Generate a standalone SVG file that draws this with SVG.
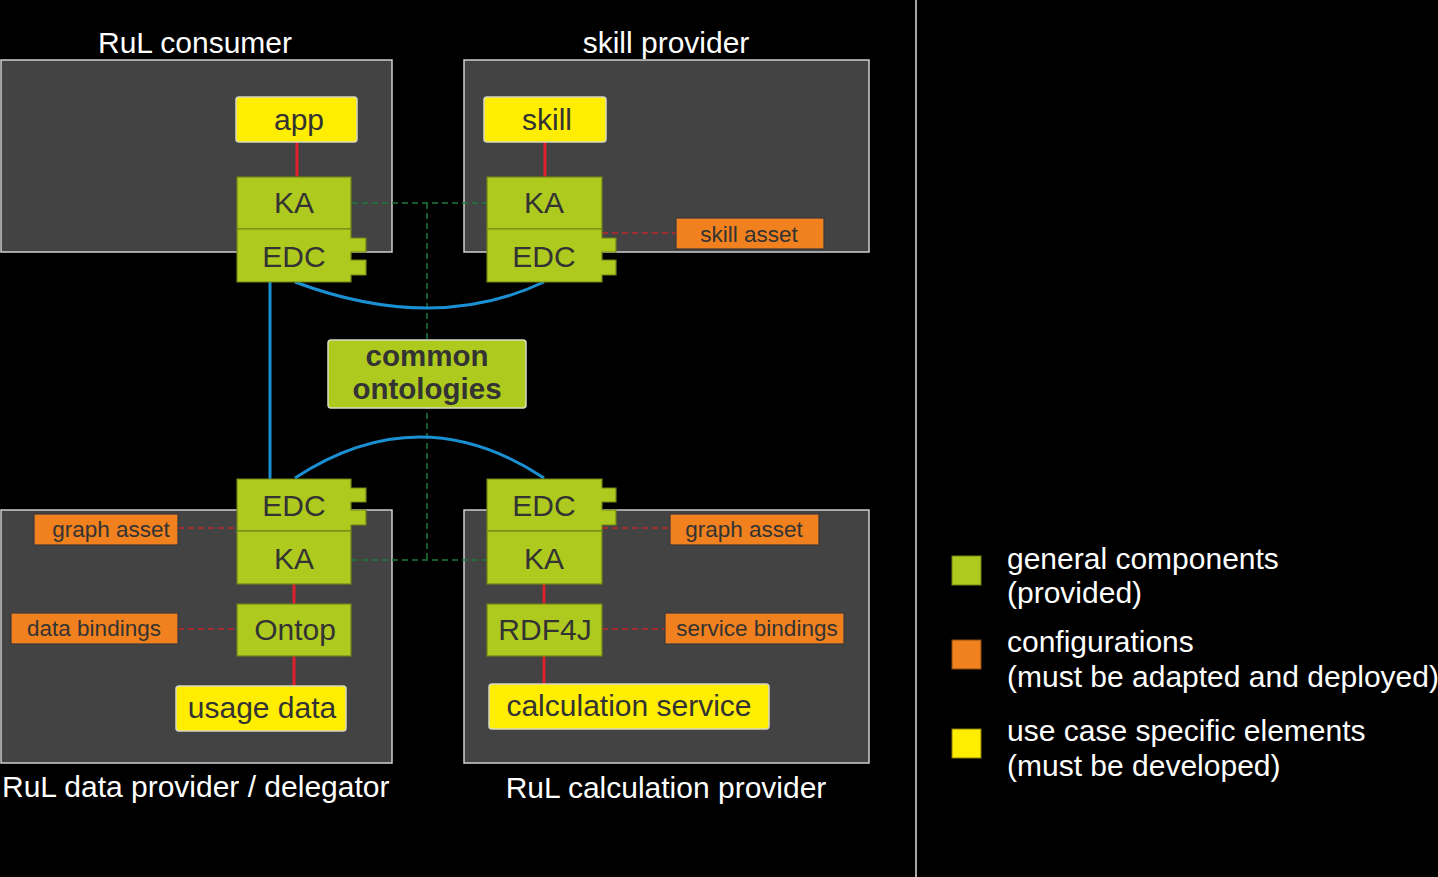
<svg xmlns="http://www.w3.org/2000/svg" width="1438" height="877" viewBox="0 0 1438 877">
<style>
text{font-family:"Liberation Sans",Arial,sans-serif;}
.cont{fill:#434343;stroke:#cfcfcf;stroke-width:1.5}
.title{fill:#ffffff;font-size:30px}
.gen{fill:#afca1f;stroke:#6e8419;stroke-width:1.2}
.use{fill:#ffee00;stroke:#d8d8c0;stroke-width:1.5}
.cfg{fill:#f0811e;stroke:#3a3a3a;stroke-width:1.2}
.t30{fill:#333333;font-size:30px;text-anchor:middle}
.t22{fill:#333333;font-size:22.5px;text-anchor:middle}
.bold{fill:#333333;font-size:29.5px;font-weight:bold;text-anchor:middle}
.red{stroke:#e0202a;stroke-width:3;fill:none}
.reddash{stroke:#c4262c;stroke-width:1.3;stroke-dasharray:6 4;fill:none}
.greendash{stroke:#1d7a3e;stroke-width:1.5;stroke-dasharray:6 4;fill:none}
.blue{stroke:#1a8fd2;stroke-width:3;fill:none}
.leg{fill:#ffffff;font-size:30px}
</style>

<rect x="0" y="0" width="1438" height="877" fill="#000000"/>
<line x1="916" y1="0" x2="916" y2="877" stroke="#dddddd" stroke-width="1.5"/>

<g id="containers">
<g id="rul-consumer">
<rect class="cont" x="1" y="60" width="391" height="192"/>
<text class="title" x="195" y="53" text-anchor="middle">RuL consumer</text>
</g>
<g id="skill-provider">
<rect class="cont" x="464" y="60" width="405" height="192"/>
<text class="title" x="666" y="53" text-anchor="middle">skill provider</text>
</g>
<g id="rul-data-provider">
<rect class="cont" x="1" y="510" width="391" height="253"/>
<text class="title" x="2" y="797">RuL data provider / delegator</text>
</g>
<g id="rul-calculation-provider">
<rect class="cont" x="464" y="510" width="405" height="253"/>
<text class="title" x="666" y="798" text-anchor="middle">RuL calculation provider</text>
</g>
</g>

<g id="connectors">
<line class="red" x1="297" y1="142" x2="297" y2="282"/>
<line class="red" x1="545" y1="142" x2="545" y2="282"/>
<line class="red" x1="294" y1="479" x2="294" y2="686"/>
<line class="red" x1="544" y1="479" x2="544" y2="684"/>
<line class="reddash" x1="602" y1="233" x2="676" y2="233"/>
<line class="reddash" x1="178" y1="528" x2="237" y2="528"/>
<line class="reddash" x1="178" y1="629" x2="237" y2="629"/>
<line class="reddash" x1="602" y1="528" x2="670" y2="528"/>
<line class="reddash" x1="602" y1="629" x2="665" y2="629"/>
<path class="greendash" d="M352,203 H487 M427,203 V560 M352,560 H487"/>
<path class="blue" d="M295,282 Q434,334 544,282"/>
<path class="blue" d="M295,478 Q420,396 544,478"/>
<line class="blue" x1="270" y1="282" x2="270" y2="479"/>
</g>

<g id="app">
<rect class="use" x="236" y="97" width="121" height="45" rx="3"/>
<text class="t30" x="299" y="130">app</text>
</g>
<g id="skill">
<rect class="use" x="484" y="97" width="122" height="45" rx="3"/>
<text class="t30" x="547" y="130">skill</text>
</g>

<g id="ka-consumer">
<rect class="gen" x="237" y="177" width="114" height="52"/>
<text class="t30" x="294" y="213">KA</text>
</g>
<g id="edc-consumer">
<path class="gen" d="M237,229 H351 V238 H366 V252 H351 V260 H366 V275 H351 V282 H237 Z"/>
<text class="t30" x="294" y="267">EDC</text>
</g>

<g id="ka-skill">
<rect class="gen" x="487" y="177" width="115" height="52"/>
<text class="t30" x="544" y="213">KA</text>
</g>
<g id="edc-skill">
<path class="gen" d="M487,229 H602 V238 H616 V252 H602 V260 H616 V275 H602 V282 H487 Z"/>
<text class="t30" x="544" y="267">EDC</text>
</g>
<g id="skill-asset">
<rect class="cfg" x="676" y="218" width="148" height="31"/>
<text class="t22" x="749" y="242">skill asset</text>
</g>

<g id="common-ontologies">
<rect x="328" y="340" width="198" height="68" rx="3" fill="#afca1f" stroke="#d8dcc0" stroke-width="1.5"/>
<text class="bold" x="427" y="366">common</text>
<text class="bold" x="427" y="399">ontologies</text>
</g>

<g id="edc-data">
<path class="gen" d="M237,479 H351 V488 H366 V502 H351 V510 H366 V525 H351 V531 H237 Z"/>
<text class="t30" x="294" y="516">EDC</text>
</g>
<g id="ka-data">
<rect class="gen" x="237" y="531" width="114" height="53"/>
<text class="t30" x="294" y="569">KA</text>
</g>
<g id="graph-asset-data">
<rect class="cfg" x="34" y="514" width="144" height="31"/>
<text class="t22" x="111" y="537">graph asset</text>
</g>
<g id="ontop">
<rect class="gen" x="237" y="604" width="114" height="52"/>
<text class="t30" x="295" y="640">Ontop</text>
</g>
<g id="data-bindings">
<rect class="cfg" x="11" y="613" width="167" height="31"/>
<text class="t22" x="94" y="636">data bindings</text>
</g>
<g id="usage-data">
<rect class="use" x="176" y="686" width="170" height="45" rx="3"/>
<text class="t30" x="262" y="718">usage data</text>
</g>

<g id="edc-calc">
<path class="gen" d="M487,479 H602 V488 H616 V502 H602 V510 H616 V525 H602 V531 H487 Z"/>
<text class="t30" x="544" y="516">EDC</text>
</g>
<g id="ka-calc">
<rect class="gen" x="487" y="531" width="115" height="53"/>
<text class="t30" x="544" y="569">KA</text>
</g>
<g id="graph-asset-calc">
<rect class="cfg" x="670" y="514" width="149" height="31"/>
<text class="t22" x="744" y="537">graph asset</text>
</g>
<g id="rdf4j">
<rect class="gen" x="487" y="604" width="115" height="52"/>
<text class="t30" x="545" y="640">RDF4J</text>
</g>
<g id="service-bindings">
<rect class="cfg" x="665" y="613" width="179" height="31"/>
<text class="t22" x="757" y="636">service bindings</text>
</g>
<g id="calculation-service">
<rect class="use" x="489" y="684" width="280" height="45" rx="3"/>
<text class="t30" x="629" y="716">calculation service</text>
</g>

<g id="legend">
<rect x="952" y="556" width="29" height="29" fill="#afca1f" stroke="#6e8419" stroke-width="1"/>
<text class="leg" x="1007" y="569">general components</text>
<text class="leg" x="1007" y="603">(provided)</text>
<rect x="952" y="640" width="29" height="29" fill="#f0811e" stroke="#8a4a10" stroke-width="1"/>
<text class="leg" x="1007" y="652">configurations</text>
<text class="leg" x="1007" y="687">(must be adapted and deployed)</text>
<rect x="952" y="729" width="29" height="29" fill="#ffee00" stroke="#8a8000" stroke-width="1"/>
<text class="leg" x="1007" y="741">use case specific elements</text>
<text class="leg" x="1007" y="776">(must be developed)</text>
</g>
</svg>
